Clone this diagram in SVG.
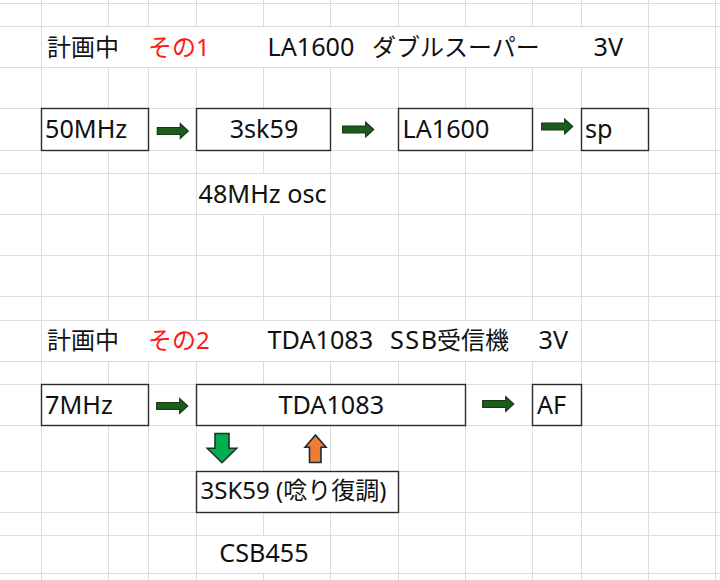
<svg xmlns="http://www.w3.org/2000/svg" width="720" height="580" viewBox="0 0 720 580">
<style>
.grid{stroke:#dcdcdc;stroke-width:1;fill:none}
.box{fill:#fff;stroke:#2b2b2b;stroke-width:1.4}
.t{font-family:'Noto Sans','Noto Sans CJK JP',sans-serif;font-size:24px;fill:#111}
.l{font-size:25.2px}
.red{fill:#ff1a1a}
.mid{text-anchor:middle}
.rarrow{fill:#1e5c1e;stroke:#143a14;stroke-width:1.2}
</style>
<defs>
<path id="ra" d="M0,-3.5 H23 V-7.3 L31,0 L23,7.3 V3.5 H0 Z"/>
</defs>
<rect width="720" height="580" fill="#fff"/>
<g id="gridlines" class="grid">
<path d="M0,3.5H720M0,26.5H720M0,67.5H720M0,108.5H720M0,150.5H720M0,173.5H720M0,214.5H720M0,255.5H720M0,296.5H720M0,320.5H720M0,361.5H720M0,384.5H720M0,425.5H720M0,471.5H720M0,512.5H720M0,535.5H720M0,573.5H720"/>
<path d="M41.5,0V580
M108.5,0V26.5M108.5,67.5V108.5M108.5,150.5V320.5M108.5,361.5V384.5M108.5,425.5V580
M148.5,0V26.5M148.5,67.5V320.5M148.5,361.5V580
M196.5,0V26.5M196.5,67.5V320.5M196.5,361.5V580
M263.5,0V26.5M263.5,67.5V108.5M263.5,150.5V173.5M263.5,214.5V320.5M263.5,361.5V384.5M263.5,425.5V471.5M263.5,512.5V535.5M263.5,573.5V580
M330.5,0V26.5M330.5,67.5V320.5M330.5,361.5V384.5M330.5,425.5V471.5M330.5,512.5V580
M398.5,0V26.5M398.5,67.5V320.5M398.5,361.5V384.5M398.5,425.5V580
M465.5,0V26.5M465.5,67.5V108.5M465.5,150.5V320.5M465.5,361.5V580
M532.5,0V26.5M532.5,67.5V320.5M532.5,361.5V580
M581.5,0V26.5M581.5,67.5V580
M648.5,0V580
M715.5,0V580"/>
</g>
<g id="title1">
<text class="t" y="56"><tspan x="47">計画中</tspan><tspan x="148" class="red">その1</tspan><tspan x="267.5" class="l">LA1600</tspan><tspan x="372">ダブルスーパー</tspan><tspan x="593.5" class="l">3V</tspan></text>
</g>
<g id="title2">
<text class="t" y="349"><tspan x="47">計画中</tspan><tspan x="148" class="red">その2</tspan><tspan x="267.5" class="l">TDA1083</tspan><tspan x="390" class="l" letter-spacing="1.5">SSB</tspan><tspan dx="-1.5">受信機</tspan><tspan x="538.5" class="l">3V</tspan></text>
</g>
<g id="n50mhz"><rect class="box" x="41.5" y="108.5" width="107" height="42"/><text class="t l" x="45" y="138">50MHz</text></g>
<g id="n3sk59"><rect class="box" x="196.5" y="108.5" width="134" height="42"/><text class="t l mid" x="264" y="138">3sk59</text></g>
<g id="nla1600"><rect class="box" x="398.5" y="108.5" width="134" height="42"/><text class="t l" x="402.5" y="138">LA1600</text></g>
<g id="nsp"><rect class="box" x="581.5" y="108.5" width="67" height="42"/><text class="t l" x="585" y="138">sp</text></g>
<g id="osc"><text class="t l" x="198.5" y="202.5">48MHz osc</text></g>
<g id="n7mhz"><rect class="box" x="41.5" y="384.5" width="107" height="41"/><text class="t l" x="45" y="414">7MHz</text></g>
<g id="ntda1083"><rect class="box" x="196.5" y="384.5" width="269" height="41"/><text class="t l mid" x="331.3" y="414">TDA1083</text></g>
<g id="naf"><rect class="box" x="532.5" y="384.5" width="49" height="41"/><text class="t l" x="537" y="414">AF</text></g>
<g id="ndemod"><rect class="box" x="196.5" y="471.5" width="202" height="41"/><text class="t" x="200.5" y="499">3SK59 (唸り復調)</text></g>
<g id="csb"><text class="t l mid" x="264" y="562">CSB455</text></g>
<g id="connectors">
<use href="#ra" class="rarrow" transform="translate(157.3,131)"/>
<use href="#ra" class="rarrow" transform="translate(342.7,129.5)"/>
<use href="#ra" class="rarrow" transform="translate(541.7,126.5)"/>
<use href="#ra" class="rarrow" transform="translate(156.7,406)"/>
<use href="#ra" class="rarrow" transform="translate(482.7,404)"/>
<path d="M215,433.5 H229 V448.3 H236.7 L222,462.7 L207.3,448.3 H215 Z" fill="#00b050" stroke="#1f3328" stroke-width="1.6"/>
<path d="M309.5,462.5 V447.3 H305 L315.5,435 L326,447.3 H321 V462.5 Z" fill="#ed7d31" stroke="#1f2a35" stroke-width="1.6"/>
</g>
</svg>
